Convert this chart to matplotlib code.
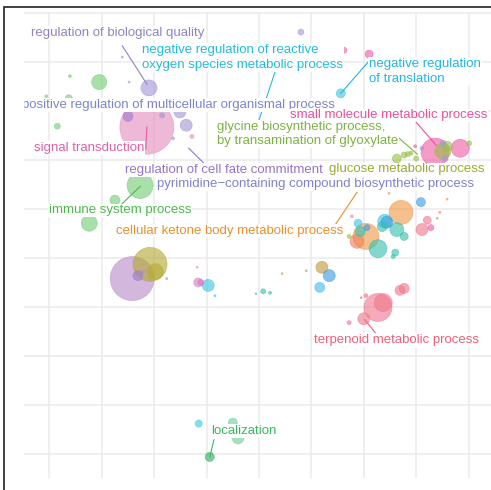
import matplotlib
matplotlib.use("Agg")
import matplotlib.pyplot as plt
from matplotlib.patches import Rectangle

# colours of the term groups
palette = {
    "lav": "#a596d6", "pink": "#e58dbf", "green": "#74cc74", "orchid": "#b98cc8",
    "olive": "#b4aa34", "mag": "#cf7fc0", "cyan": "#3cc6e2", "hot": "#ee5ea6",
    "ygreen": "#98c048", "blue": "#3a9ce0", "orange": "#f09a48", "teal": "#38bfae",
    "salmon": "#f0788e", "dgreen": "#2fae5c", "mint": "#6cd09c", "tan": "#c49a3c",
    "purple": "#a07ccc", "lblue": "#4cb6ee", "redor": "#f08060",
}

# semantic space coordinates, bubble radius (px) and group
sx = [-2.10, -2.61, -2.48, 0.80, -3.05, -3.61, -3.63, -4.06, -3.40, -3.85,
      -2.14, -2.50, -1.85, -1.51, -1.39, -1.64, -1.28, -2.27, -2.75, -3.24,
      -2.42, -2.08, -1.98, -2.31, -2.21, -1.76, -1.18, -1.16, -1.11, -0.97,
      -0.84, -1.15, -0.50, -0.40, -0.94, 1.62, 2.10, 1.56, 3.36, 3.84,
      3.51, 3.59, 3.51, 3.55, 4.01, 2.63, 2.77, 2.84, 2.90, 3.00,
      3.11, 2.98, 2.71, 3.09, 2.48, 3.59, 1.89, 2.40, 2.44, 2.35,
      2.63, 2.77, 2.04, 1.87, 1.93, 2.06, 2.27, 2.60, 2.56, 1.72,
      1.77, 3.11, 3.21, 3.28, 3.40, 3.45, 0.90, 1.20, 1.34, 1.16,
      0.44, 0.08, 0.21, -0.06, 2.27, 2.37, 2.69, 2.77, 2.00, 1.72,
      2.04, 1.95]
sy = [3.48, 4.11, 3.60, 4.62, 3.60, 3.72, 3.27, 3.31, 3.19, 2.70,
      2.68, 2.90, 2.92, 2.99, 2.72, 2.45, 2.49, 1.49, 1.19, 0.72,
      -0.41, -0.12, -0.27, -0.35, -0.27, -0.41, -0.18, -0.49, -0.49, -0.55,
      -0.76, -3.37, -3.35, -3.66, -4.05, 4.25, 4.17, 3.37, 2.17, 2.25,
      2.19, 2.29, 2.35, 2.04, 2.35, 2.04, 2.11, 2.13, 2.15, 2.04,
      2.25, 2.29, 0.94, 1.15, 1.33, 1.21, 0.72, 0.76, 0.74, 0.65,
      0.59, 0.45, 0.45, 0.35, 0.55, 0.63, 0.20, 0.12, 0.04, 0.45,
      0.86, 0.59, 0.78, 0.63, 0.82, 0.94, -0.25, -0.18, -0.35, -0.59,
      -0.31, -0.67, -0.70, -0.72, -1.00, -0.90, -0.65, -0.61, -1.23, -1.31,
      -0.76, -0.80]
radius = [8, 1, 1, 3, 7.5, 1.5, 3.5, 1.5, 2.5, 3,
          27, 5, 2.5, 6, 6, 1.5, 2, 13, 5, 8,
          22, 17, 8, 5, 1.5, 1, 1, 4.5, 3, 6,
          1, 3.5, 4.5, 6, 4.5, 3, 4, 4.5, 14, 9,
          8, 5, 3, 3, 2.5, 4.5, 3, 2.5, 2, 2.5,
          2, 1.5, 12, 4.5, 1, 1, 4, 7, 6, 5,
          7, 4, 13, 7, 5, 3, 9, 3.5, 2, 2,
          1.5, 6, 4, 3, 1, 1, 1, 6, 6, 5,
          1, 2.5, 1.5, 0.8, 14, 9, 5, 5, 6, 2,
          2, 1]
group = ["lav", "lav", "lav", "lav", "green", "green", "green", "green", "green", "green",
         "pink", "purple", "lav", "lav", "lav", "lav", "pink", "green", "green", "green",
         "orchid", "olive", "olive", "purple", "orchid", "orchid", "pink", "mag", "mag", "cyan",
         "cyan", "cyan", "mint", "mint", "dgreen", "hot", "hot", "cyan", "hot", "hot",
         "ygreen", "ygreen", "lav", "lav", "ygreen", "ygreen", "ygreen", "ygreen", "ygreen", "ygreen",
         "lav", "hot", "orange", "blue", "orange", "orange", "cyan", "cyan", "blue", "teal",
         "teal", "teal", "orange", "redor", "teal", "blue", "teal", "teal", "teal", "ygreen",
         "pink", "salmon", "salmon", "hot", "ygreen", "salmon", "green", "tan", "blue", "lblue",
         "orange", "teal", "teal", "teal", "salmon", "salmon", "salmon", "salmon", "salmon", "salmon",
         "salmon", "salmon"]

# labelled terms: text, colour, label anchor, leader segment (point end, label end)
labels = [
    "regulation of biological quality",
    "negative regulation of reactive\noxygen species metabolic process",
    "negative regulation\nof translation",
    "positive regulation of multicellular organismal process",
    "small molecule metabolic process",
    "glycine biosynthetic process,\nby transamination of glyoxylate",
    "signal transduction",
    "regulation of cell fate commitment",
    "pyrimidine\u2212containing compound biosynthetic process",
    "glucose metabolic process",
    "immune system process",
    "cellular ketone body metabolic process",
    "terpenoid metabolic process",
    "localization",
]
label_colors = ["#9083c4", "#22bcd8", "#22b6e0", "#7b86c8", "#ee4f9c", "#7cb342", "#e060a8",
                "#9575c8", "#8282c8", "#9aac30", "#4cb84c", "#e8902a", "#f0607a", "#38b860"]
label_x = [-4.35, -2.23, 2.10, -4.52, 0.59, -0.80, -4.29, -2.56, -1.95, 1.34, -4.01, -2.73, 1.05, -0.92]
label_y = [4.60, 4.10, 3.82, 3.13, 2.92, 2.54, 2.25, 1.80, 1.51, 1.82, 0.98, 0.57, -1.66, -3.52]
segments = [
    ((-2.14, 3.56), (-2.61, 4.34)),
    ((-0.13, 2.41), (0.31, 3.82)),
    ((1.56, 3.37), (2.10, 4.03)),
    None,
    ((3.38, 2.31), (3.00, 2.78)),
    ((3.02, 2.13), (2.58, 2.54)),
    ((-2.14, 2.68), (-2.16, 2.23)),
    ((-1.34, 2.25), (-1.05, 1.94)),
    None,
    None,
    ((-2.27, 1.47), (-2.61, 1.12)),
    ((1.87, 1.35), (1.43, 0.65)),
    ((2.02, -1.25), (2.23, -1.53)),
    ((-0.94, -4.05), (-0.86, -3.70)),
]

W, H = 491, 490
fig = plt.figure(figsize=(W / 100, H / 100), dpi=100)
ax = fig.add_axes([24 / W, 12 / H, 1 - 24 / W, (478 - 12) / H])
ax.set_xlim(-4.485, 4.427)
ax.set_ylim(-4.48, 5.03)
ax.set_xticks(range(-4, 5))
ax.set_yticks(range(-4, 6))
ax.grid(True, color="#ebebeb", linewidth=1.1)
ax.set_axisbelow(True)
ax.tick_params(length=0, labelbottom=False, labelleft=False)
for s in ax.spines.values():
    s.set_visible(False)

# bubbles, biggest first
order = sorted(range(len(sx)), key=lambda i: -radius[i])
ax.scatter([sx[i] for i in order], [sy[i] for i in order],
           s=[(1.44 * radius[i]) ** 2 for i in order],
           c=[palette[group[i]] for i in order],
           edgecolors=[palette[group[i]] for i in order],
           linewidths=0.5, alpha=0.62, zorder=2)

for i, txt in enumerate(labels):
    if segments[i] is not None:
        (x0, y0), (x1, y1) = segments[i]
        ax.plot([x0, x1], [y0, y1], color=label_colors[i], linewidth=0.8, zorder=3)
    ax.text(label_x[i], label_y[i], txt, color=label_colors[i], fontsize=9.5,
            family="Liberation Sans", ha="left", va="center", linespacing=1.3,
            bbox=dict(facecolor="white", edgecolor="none", pad=0.6), zorder=4, clip_on=True)

# outer frame, only its left and top show
fig.add_artist(Rectangle((3.5 / W, -0.1), 1.2, 1 - 7.5 / H + 0.1, transform=fig.transFigure,
                         fill=False, edgecolor="#333333", linewidth=1.3))

fig.savefig("out.png", dpi=100)
